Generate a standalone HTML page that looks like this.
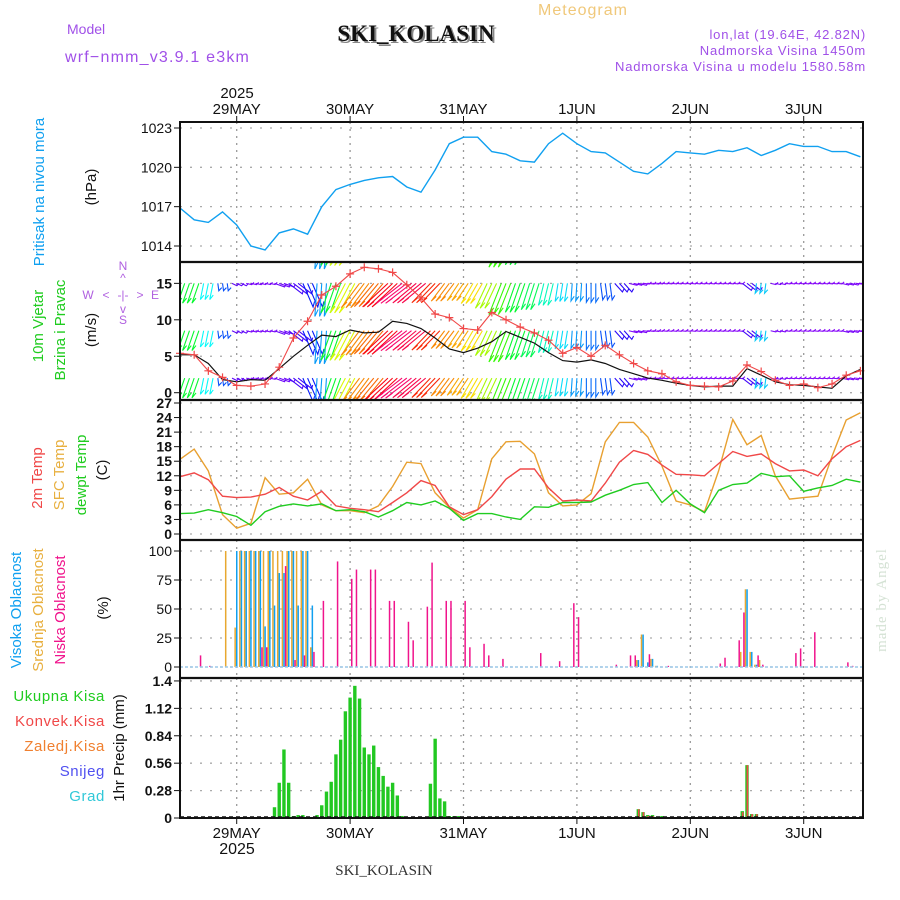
<!DOCTYPE html>
<html><head><meta charset="utf-8">
<style>
html,body{margin:0;padding:0;background:#fff;}
svg{display:block;font-family:"Liberation Sans",sans-serif;}
</style></head>
<body>
<svg id="chart" width="900" height="900" viewBox="0 0 900 900" xmlns="http://www.w3.org/2000/svg">
  <rect x="0" y="0" width="900" height="900" fill="#fff"/>
  <text x="583" y="15" font-size="16" fill="#f0c87a" text-anchor="middle" letter-spacing="1">Meteogram</text>
  <text x="67" y="34" font-size="14" fill="#a050e8">Model</text>
  <text x="418" y="43" font-size="23" font-weight="bold" fill="#888" text-anchor="middle" font-family="Liberation Serif, serif">SKI_KOLASIN</text>
  <text x="416" y="41" font-size="23" font-weight="bold" fill="#111" text-anchor="middle" font-family="Liberation Serif, serif">SKI_KOLASIN</text>
  <text x="65" y="62" font-size="16" fill="#a050e8" letter-spacing="1.2">wrf−nmm_v3.9.1 e3km</text>
  <text x="866" y="39" font-size="13" fill="#a050e8" text-anchor="end" letter-spacing="0.8">lon,lat (19.64E, 42.82N)</text>
  <text x="866" y="55" font-size="13" fill="#a050e8" text-anchor="end" letter-spacing="0.8">Nadmorska Visina 1450m</text>
  <text x="866" y="71" font-size="13" fill="#a050e8" text-anchor="end" letter-spacing="0.8">Nadmorska Visina u modelu 1580.58m</text>
  <text x="237" y="98" font-size="15" fill="#111" text-anchor="middle">2025</text>

  <text transform="translate(44,192) rotate(-90)" font-size="15" fill="#10a0f0" text-anchor="middle">Pritisak na nivou mora</text>
  <text transform="translate(96,187) rotate(-90)" font-size="15" fill="#111" text-anchor="middle">(hPa)</text>
  <text transform="translate(43,326) rotate(-90)" font-size="15" fill="#20cc20" text-anchor="middle">10m Vjetar</text>
  <text transform="translate(65,330) rotate(-90)" font-size="15" fill="#20cc20" text-anchor="middle">Brzina i Pravac</text>
  <text transform="translate(96,330) rotate(-90)" font-size="15" fill="#111" text-anchor="middle">(m/s)</text>
  <g font-size="12" fill="#b060e0">
    <text x="123" y="270" text-anchor="middle">N</text>
    <text x="123" y="282" text-anchor="middle">^</text>
    <text x="123" y="299" text-anchor="middle">-|-</text>
    <text x="88" y="299" text-anchor="middle">W</text>
    <text x="106" y="299" text-anchor="middle">&lt;</text>
    <text x="140" y="299" text-anchor="middle">&gt;</text>
    <text x="155" y="299" text-anchor="middle">E</text>
    <text x="123" y="313" text-anchor="middle">v</text>
    <text x="123" y="324" text-anchor="middle">S</text>
  </g>
  <text transform="translate(42,478) rotate(-90)" font-size="15" fill="#f04848" text-anchor="middle">2m Temp</text>
  <text transform="translate(64,475) rotate(-90)" font-size="15" fill="#e8b040" text-anchor="middle">SFC Temp</text>
  <text transform="translate(86,475) rotate(-90)" font-size="15" fill="#20cc20" text-anchor="middle">dewpt Temp</text>
  <text transform="translate(107,470) rotate(-90)" font-size="15" fill="#111" text-anchor="middle">(C)</text>
  <text transform="translate(21,610) rotate(-90)" font-size="15" fill="#10a0f0" text-anchor="middle">Visoka Oblacnost</text>
  <text transform="translate(43,610) rotate(-90)" font-size="15" fill="#e8b040" text-anchor="middle">Srednja Oblacnost</text>
  <text transform="translate(65,610) rotate(-90)" font-size="15" fill="#f0148c" text-anchor="middle">Niska Oblacnost</text>
  <text transform="translate(108,608) rotate(-90)" font-size="15" fill="#111" text-anchor="middle">(%)</text>
  <g font-size="15" text-anchor="end" letter-spacing="0.6">
    <text x="105" y="701" fill="#20cc20">Ukupna Kisa</text>
    <text x="105" y="726" fill="#f04848">Konvek.Kisa</text>
    <text x="105" y="751" fill="#f08030">Zaledj.Kisa</text>
    <text x="105" y="776" fill="#5050f0">Snijeg</text>
    <text x="105" y="801" fill="#30c8d8">Grad</text>
  </g>
  <text transform="translate(124,748) rotate(-90)" font-size="15" fill="#111" text-anchor="middle">1hr Precip (mm)</text>

  <text transform="translate(886,600) rotate(-90)" font-size="15" fill="#d4e2d4" text-anchor="middle" font-family="Liberation Serif, serif" letter-spacing="1">made by Angel</text>
  <text x="237" y="854" font-size="16" fill="#111" text-anchor="middle">2025</text>
  <text x="384" y="875" font-size="15" fill="#333" text-anchor="middle" font-family="Liberation Serif, serif">SKI_KOLASIN</text>

  <defs><clipPath id="windClip"><rect x="180" y="262" width="683" height="138"/></clipPath></defs>
  <g id="grid"></g>
  <g id="marks"></g>
  <g id="axes"></g>
</svg>
<script>
const dayLabels = ["29MAY","30MAY","31MAY","1JUN","2JUN","3JUN"];
const dayHours = [12,36,60,84,108,132];
const hours3 = [0,3,6,9,12,15,18,21,24,27,30,33,36,39,42,45,48,51,54,57,60,63,66,69,72,75,78,81,84,87,90,93,96,99,102,105,108,111,114,117,120,123,126,129,132,135,138,141,144];
const pressure = [1016.9,1016.0,1015.8,1016.6,1015.6,1014.0,1013.7,1015.0,1015.3,1014.9,1017.0,1018.3,1018.7,1019.0,1019.2,1019.3,1018.5,1018.1,1019.8,1021.8,1022.3,1022.3,1021.2,1021.0,1020.5,1020.4,1021.8,1022.6,1021.8,1021.2,1021.1,1020.4,1019.7,1019.5,1020.3,1021.2,1021.1,1021.0,1021.3,1021.2,1021.5,1020.9,1021.3,1021.8,1021.6,1021.6,1021.2,1021.2,1020.8];
const windSpeed = [5.2,5.2,4.0,1.8,1.5,1.8,1.7,3.3,5.0,6.5,7.9,7.7,8.6,8.2,8.3,9.8,9.5,8.8,7.5,6.0,5.5,6.1,7.0,8.4,7.6,6.8,5.5,4.4,4.2,4.5,4.0,3.2,2.6,2.0,1.7,1.3,1.0,0.8,0.9,0.9,3.3,2.4,1.5,1.1,1.0,0.8,0.6,2.3,3.2];
const windGust = [5.4,5.2,3.0,2.1,1.0,0.9,1.2,3.5,7.5,9.8,13.4,14.6,16.3,17.2,17.0,16.5,14.8,13.0,10.8,10.3,8.8,8.6,11.0,10.0,9.0,8.2,7.2,5.4,6.2,5.0,6.5,5.2,4.0,3.0,2.6,1.5,1.0,0.9,0.8,1.6,3.8,2.9,1.7,1.0,1.2,0.7,1.2,2.4,3.0];
const windDir = [205,205,195,170,110,100,100,105,120,150,185,205,215,225,228,235,240,238,232,225,222,218,212,208,205,203,198,192,185,180,170,130,100,95,95,95,95,95,95,95,120,190,100,95,95,95,95,100,95];
const temp2m = [11.8,12.6,11.2,7.8,7.5,7.6,8.2,9.6,7.8,7.0,8.8,5.8,5.3,5.0,4.6,6.5,8.5,11.0,10.0,5.6,4.0,5.0,7.7,11.3,13.4,13.4,9.5,6.8,7.0,6.8,10.5,14.8,17.2,16.4,14.2,12.3,12.2,12.0,14.5,17.0,16.0,16.5,14.5,13.0,13.2,12.0,15.5,18.0,19.3];
const tempSfc = [15.4,17.5,13.0,4.0,1.2,2.2,11.6,8.2,8.5,11.3,6.0,4.8,4.8,4.4,5.8,9.8,14.8,14.5,8.5,5.5,3.3,5.0,15.5,19.0,19.1,16.5,8.5,5.8,6.0,8.3,19.0,23.0,23.0,20.0,14.0,6.8,6.0,4.6,13.0,23.6,18.4,20.3,12.0,7.2,7.5,7.8,16.0,23.5,25.0];
const dewpt = [4.2,4.3,5.0,4.4,3.6,1.8,4.6,5.7,6.2,5.8,6.2,4.8,5.0,4.6,3.5,4.8,6.5,6.0,6.8,5.3,2.8,4.2,4.2,3.5,3.0,5.6,5.5,6.5,6.5,6.6,8.0,9.0,10.2,10.6,6.5,9.0,6.2,4.4,9.0,10.2,10.5,12.5,11.8,12.0,8.8,9.5,10.0,11.3,10.7];
const highHours = [12,13,14,15,16,17,18,19,20,21,22,23,24,25,26,27,28,97,98,99,100,101,120,121,122];
const highVals  = [100,100,100,100,100,100,35,100,53,81,81,100,100,53,100,100,53,6,28,4,7,1,67,13,2];
const midHours = [10,12,13,14,15,16,17,18,19,20,21,22,23,24,25,26,27,28,97,98,100,101,119,120,121,122,123];
const midVals  = [100,34,100,100,100,100,100,100,100,100,100,100,100,100,100,100,100,17,6,28,7,1,13,67,13,2,6];
const lowHours = [4,6,17,18,22,24,26,28,30,33,36,37,40,41,44,45,48,49,52,53,56,57,60,61,64,65,68,76,80,83,84,92,95,96,99,103,114,115,118,119,122,123,130,131,134,141,142];
const lowVals  = [10,1,17,17,87,6,10,13,57,91,76,84,84,84,57,57,39,23,52,90,57,57,57,17,20,10,7,12,5,55,43,2,10,10,11,1,3,8,23,47,10,2,12,16,30,4,1];
const precipHours = [20,21,22,23,24,25,26,29,30,31,32,33,34,35,36,37,38,39,40,41,42,43,44,45,46,47,53,54,55,56,57,58,59,97,98,99,100,102,119,120,121,122];
const precipVals  = [0.11,0.36,0.70,0.36,0.02,0.03,0.03,0.03,0.13,0.27,0.37,0.65,0.80,1.09,1.23,1.35,1.22,0.72,0.65,0.74,0.52,0.43,0.32,0.36,0.23,0.02,0.35,0.81,0.20,0.17,0.02,0.02,0.02,0.09,0.06,0.03,0.03,0.02,0.07,0.54,0.04,0.04];
const convHours = [97,98,99,100,119,120,121,122];
const convVals  = [0.09,0.06,0.02,0.02,0.06,0.54,0.04,0.04];
const pTicks = [1014,1017,1020,1023];
const wTicks = [0,5,10,15];
const tTicks = [0,3,6,9,12,15,18,21,24,27];
const cTicks = [0,25,50,75,100];
const rTicks = [0,0.28,0.56,0.84,1.12,1.4];

const NS = "http://www.w3.org/2000/svg";
const X0 = 180, X1 = 863;
const xOf = h => X0 + h * 4.725;
const yP = v => 128 + (1023 - v) * 13.11;
const yW = v => 392.7 - v * 7.29;
const yT = v => 534 - v * 4.852;
const yC = v => 667 - v * 1.16;
const yR = v => 818 - v * 97.9;
const panels = [[122,262,yP,pTicks,"pressure"],[262,400,yW,wTicks,"wind"],[400,540,yT,tTicks,"temp"],[540,678,yC,cTicks,"cloud"],[678,818,yR,rTicks,"precip"]];

function mk(tag, attrs, parent){ const e=document.createElementNS(NS,tag); for(const k in attrs) e.setAttribute(k,attrs[k]); parent.appendChild(e); return e; }
const grid=document.getElementById('grid'), marks=document.getElementById('marks'), axes=document.getElementById('axes');

panels.forEach(p=>{
  const [top,bot,yf,ticks,name]=p;
  dayHours.forEach(h=>{
    const l=mk('line',{x1:xOf(h),x2:xOf(h),y1:top,y2:bot,stroke:'#999','stroke-width':1.3,'stroke-dasharray':'2,5'},grid);
    
    
  });
  ticks.forEach(t=>{
    const y=yf(t);
    const g=mk('line',{x1:X0,x2:X1,y1:y,y2:y,stroke:'#aaa','stroke-width':1.3,'stroke-dasharray':'2,8'},grid);
    
    
    const tk=mk('line',{x1:X0-6,x2:X0,y1:y,y2:y,stroke:'#111','stroke-width':1},axes);
    
    
    const tx=mk('text',{x:X0-8,y:y+5,'font-size':14,'text-anchor':'end',fill:'#111','font-weight':(name==='precip'||name==='wind'||name==='temp')?'bold':'normal'},axes);
    tx.textContent=String(t);
    
    
  });
});
dayHours.forEach((h,i)=>{
  [[114,'top'],[838,'bottom']].forEach(([y,w])=>{
    const t=mk('text',{x:xOf(h),y:y,'font-size':15,'text-anchor':'middle',fill:'#111'},axes);
    t.textContent=dayLabels[i];
    
    
    const tk=mk('line',{x1:xOf(h),x2:xOf(h),y1:w==='top'?116:818,y2:w==='top'?122:824,stroke:'#111'},axes);
    
    
  });
});

function line(vals, yf, color, name, w){
  const d=vals.map((v,i)=>(i?'L':'M')+xOf(hours3[i]).toFixed(1)+','+yf(v).toFixed(1)).join('');
  const p=mk('path',{d:d,fill:'none',stroke:color,'stroke-width':w||1.4},marks);
  
  
  return p;
}
line(pressure,yP,'#10a0f0','pressure-line');

function hueOf(d){
  const pts=[[90,275],[150,235],[180,215],[195,180],[205,130],[212,80],[220,45],[228,25],[240,-25]];
  if(d<=pts[0][0]) return pts[0][1];
  for(let i=1;i<pts.length;i++){ if(d<=pts[i][0]){const a=pts[i-1],b=pts[i];return a[1]+(b[1]-a[1])*(d-a[0])/(b[0]-a[0]);} }
  return pts[pts.length-1][1];
}
const windG=mk('g',{'clip-path':'url(#windClip)'},marks);


[2,8.5,15,21.5].forEach(base=>{
  windDir.forEach((d,i)=>{
    const L=Math.max(7,windSpeed[i]*4.2);
    const rad=d*Math.PI/180;
    const x=xOf(hours3[i]), y=yW(base);
    const dx=Math.sin(rad)*L*0.75, dy=-Math.cos(rad)*L;
    const col='hsl('+((hueOf(d)+360)%360)+',95%,50%)';
    for(let k=-1;k<=1;k++){
      const xs=x+k*4.7;
      if(xs<X0) continue;
      const a=mk('path',{d:'M'+xs+','+y+'l'+dx.toFixed(1)+','+dy.toFixed(1)+'l'+(3-dx*0.15).toFixed(1)+','+(-dy*0.15-2).toFixed(1),fill:'none',stroke:col,'stroke-width':1.1},windG);
      
      
    }
  });
});
line(windSpeed,yW,'#111','wind-speed-line',1.2);
line(windGust,yW,'#f04848','wind-gust-line',1.1);
windGust.forEach((v,i)=>{
  const x=xOf(hours3[i]), y=yW(v);
  const c=mk('path',{d:'M'+(x-4)+','+y+'h8M'+x+','+(y-4)+'v8',stroke:'#f04848','stroke-width':1.2},marks);
  
  
});

line(tempSfc,yT,'#e8a030','sfc-temp-line');
line(temp2m,yT,'#f04848','temp-2m-line');
line(dewpt,yT,'#20cc20','dewpoint-line');

function bars(hs, vs, off, col, name){
  hs.forEach((h,i)=>{
    const y=yC(vs[i]);
    const r=mk('rect',{x:xOf(h)+off-0.7,y:y,width:1.5,height:yC(0)-y,fill:col},marks);
    
    
  });
}
bars(midHours,midVals,-1.6,'#e8a830','cloud-mid-bar');
bars(highHours,highVals,0,'#10a0f0','cloud-high-bar');
bars(lowHours,lowVals,1.6,'#f0148c','cloud-low-bar');
const cb=mk('line',{x1:X0,x2:X1,y1:yC(0),y2:yC(0),stroke:'#9cc8e8','stroke-width':1.5,'stroke-dasharray':'3,2'},marks);



precipHours.forEach((h,i)=>{
  const y=yR(precipVals[i]);
  const r=mk('rect',{x:xOf(h)-1.7,y:y,width:3.4,height:yR(0)-y,fill:'#22c822'},marks);
  
  
});
convHours.forEach((h,i)=>{
  const y=yR(convVals[i]);
  const r=mk('rect',{x:xOf(h)-0.4,y:y,width:1.6,height:yR(0)-y,fill:'#f04848'},marks);
  
  
});
const pb=mk('line',{x1:X0,x2:X1,y1:817,y2:817,stroke:'#111','stroke-width':1.5,'stroke-dasharray':'4,3'},marks);



const fr=mk('rect',{x:X0,y:122,width:X1-X0,height:696,fill:'none',stroke:'#111','stroke-width':2},axes);


[262,400,540,678].forEach(y=>{
  const s=mk('line',{x1:X0,x2:X1,y1:y,y2:y,stroke:'#111','stroke-width':2.2},axes);
  
  
});
</script>
</body></html>
